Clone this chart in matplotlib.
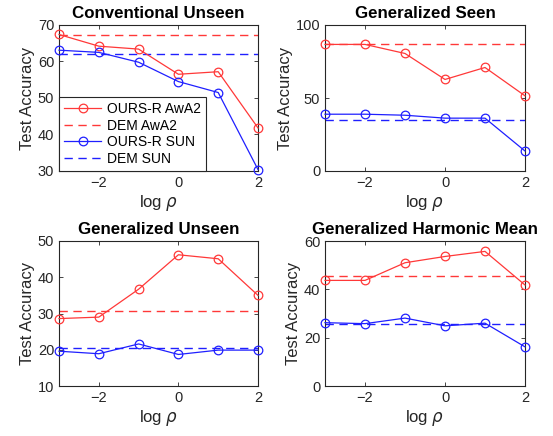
import matplotlib
matplotlib.use("Agg")
import matplotlib.pyplot as plt

plt.rcParams['font.family'] = ['Liberation Sans', 'DejaVu Sans']
plt.rcParams['mathtext.fontset'] = 'dejavusans'

log_rho = [-3, -2, -1, 0, 1, 2]

titles = ["Conventional Unseen", "Generalized Seen", "Generalized Unseen", "Generalized Harmonic Mean"]

ours_awa2 = [
    [67.4, 64.2, 63.4, 56.5, 57.2, 41.8],
    [86.7, 86.7, 80.5, 62.7, 70.9, 51.5],
    [28.6, 29.0, 36.7, 46.2, 45.1, 35.0],
    [43.7, 43.7, 51.0, 53.6, 55.7, 41.8],
]
dem_awa2 = [67.3, 86.7, 30.6, 45.4]
ours_sun = [
    [63.1, 62.5, 59.8, 54.5, 51.5, 30.4],
    [38.9, 38.9, 38.2, 36.2, 36.2, 13.7],
    [19.6, 18.9, 21.6, 18.7, 19.9, 19.9],
    [26.2, 25.8, 28.1, 24.9, 26.0, 16.2],
]
dem_sun = [62.0, 34.6, 20.6, 25.7]

ylims = [(30, 70), (0, 100), (10, 50), (0, 60)]
yticks = [[30, 40, 50, 60, 70], [0, 50, 100], [10, 20, 30, 40, 50], [0, 20, 40, 60]]
xticks = [-2, 0, 2]

W, H = 553, 436
fig = plt.figure(figsize=(W / 100, H / 100), dpi=100)

# axes positions in pixels: left, top, right, bottom
boxes = [(59, 25, 258, 171), (325, 25, 525, 171), (59, 241, 258, 386), (325, 241, 525, 386)]

red = (1.0, 0.22, 0.22)
blue = (0.12, 0.12, 1.0)
gray = (0.15, 0.15, 0.15)

for i in range(4):
    l, t, r, b = boxes[i]
    ax = fig.add_axes([l / W, 1 - b / H, (r - l) / W, (b - t) / H])
    ax.plot(log_rho, ours_awa2[i], '-o', color=red, mfc='none', ms=6.2, lw=0.9, mew=0.9,
            label='OURS-R AwA2', clip_on=False, zorder=3)
    ax.plot([log_rho[0], log_rho[-1]], [dem_awa2[i]] * 2, '--', color=red, lw=1.0, dashes=(6, 4), label='DEM AwA2')
    ax.plot(log_rho, ours_sun[i], '-o', color=blue, mfc='none', ms=6.2, lw=0.9, mew=0.9,
            label='OURS-R SUN', clip_on=False, zorder=3)
    ax.plot([log_rho[0], log_rho[-1]], [dem_sun[i]] * 2, '--', color=blue, lw=1.0, dashes=(6, 4), label='DEM SUN')
    ax.set_xlim(-3, 2)
    ax.set_ylim(*ylims[i])
    ax.set_xticks(xticks)
    ax.set_xticklabels(['\u22122', '0', '2'])
    ax.set_yticks(yticks[i])
    ax.tick_params(direction='in', length=3, top=True, right=True, labelsize=10.5, colors=gray, width=0.6)
    for s in ax.spines.values():
        s.set_color(gray)
        s.set_linewidth(0.8)
    ax.set_title(titles[i], fontsize=12.2, fontweight='bold', pad=5)
    ax.set_xlabel(r'log $\rho$', fontsize=12, color=gray, labelpad=2)
    ax.set_ylabel('Test Accuracy', fontsize=12, color=gray, labelpad=2)
    if i == 0:
        leg = ax.legend(loc='lower left', fontsize=10, frameon=True, fancybox=False,
                        borderaxespad=0, handlelength=2.7, handletextpad=0.4,
                        borderpad=0.35, labelspacing=0.2, edgecolor=gray, framealpha=1)
        leg.get_frame().set_linewidth(0.8)
        leg.set_zorder(5)

fig.savefig('out.png', dpi=100)
